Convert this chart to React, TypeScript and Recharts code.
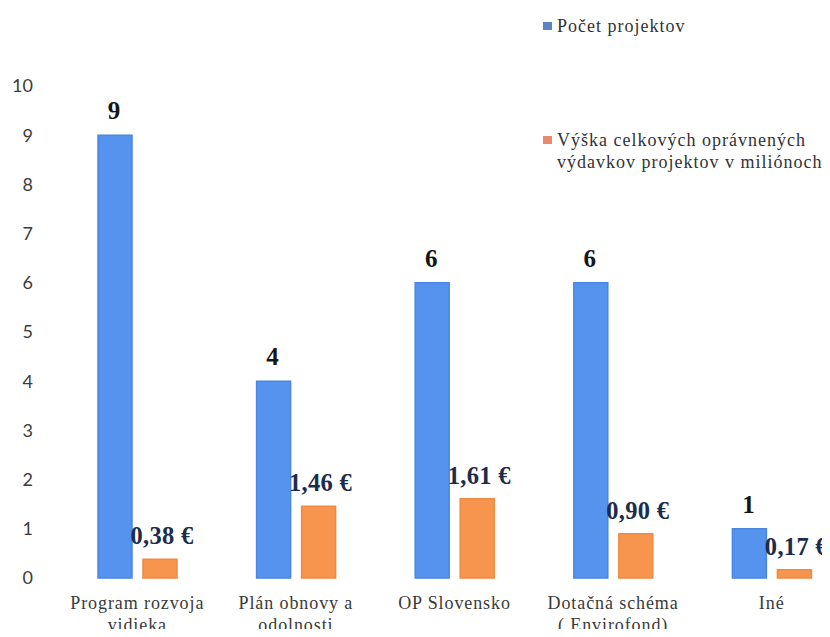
import React from 'react';
import { BarChart, Bar, XAxis, YAxis, Legend, LabelList } from 'recharts';

const categories = [
    'Program rozvoja\nvidieka',
    'Plán obnovy a\nodolnosti',
    'OP Slovensko',
    'Dotačná schéma\n( Envirofond)',
    'Iné',
];
const projectCounts = [9, 4, 6, 6, 1];
const eligibleCosts = [0.38, 1.46, 1.61, 0.9, 0.17];
const yTicks = [0, 1, 2, 3, 4, 5, 6, 7, 8, 9, 10];

const countName = 'Počet projektov';
const costName = 'Výška celkových oprávnených\nvýdavkov projektov v miliónoch';

const data = categories.map((name, i) => ({
    name,
    count: projectCounts[i],
    cost: eligibleCosts[i],
}));

const serif = 'Liberation Serif';

const XTick = (props: any) => {
    const { x, y, payload } = props;
    const lines = String(payload.value).split('\n');
    return (
        <text
            x={x}
            y={y + 23}
            textAnchor="middle"
            style={{ fontFamily: serif, letterSpacing: 0.9 }}
            fontSize={18}
            fill="#3a3a3a"
        >
            {lines.map((line, i) => (
                <tspan key={i} x={x} dy={i === 0 ? 0 : 22}>
                    {line}
                </tspan>
            ))}
        </text>
    );
};

const countLabel = (p: any) => (
    <text
        x={Number(p.x) + Number(p.width) / 2 - 1}
        y={Number(p.y) - 16}
        textAnchor="middle"
        style={{ fontFamily: serif }}
        fontWeight="bold"
        fontSize={25}
        fill="#151515"
    >
        {p.value}
    </text>
);

const costLabel = (p: any) => (
    <text
        x={Number(p.x) + Number(p.width) / 2 + 2}
        y={Number(p.y) - 15}
        textAnchor="middle"
        style={{ fontFamily: serif, letterSpacing: 0.3 }}
        fontWeight="bold"
        fontSize={24.5}
        fill="#1e2c4c"
    >
        {Number(p.value).toFixed(2).replace('.', ',') + ' €'}
    </text>
);

const renderLegend = () => (
    <div style={{ fontFamily: serif, fontSize: 18, letterSpacing: 1, color: '#333', lineHeight: '22px' }}>
        <div style={{ display: 'flex', alignItems: 'flex-start' }}>
            <span style={{ width: 9, height: 8, background: '#5c84c4', marginTop: 7, marginRight: 5, flexShrink: 0 }} />
            <span>{countName}</span>
        </div>
        <div style={{ display: 'flex', alignItems: 'flex-start', marginTop: 92 }}>
            <span style={{ width: 9, height: 8, background: '#e98a6e', marginTop: 7, marginRight: 5, flexShrink: 0 }} />
            <span style={{ whiteSpace: 'pre' }}>{costName}</span>
        </div>
    </div>
);

export default function App() {
    return (
        <div style={{ margin: -8, width: 830, height: 637, overflow: 'hidden', background: '#fff' }}>
            <BarChart
                width={851}
                height={637}
                data={data}
                margin={{ top: 86, right: 0, left: 0, bottom: 0 }}
                barSize={34}
                barGap={11}
            >
                <XAxis
                    dataKey="name"
                    axisLine={false}
                    tickLine={false}
                    height={59}
                    tick={<XTick />}
                    interval={0}
                />
                <YAxis
                    width={58}
                    domain={[0, 10]}
                    ticks={yTicks}
                    axisLine={false}
                    tickLine={false}
                    tickSize={6}
                    tickMargin={19}
                    tick={{ fontFamily: 'Lato, sans-serif', fontSize: 18, fill: '#3c3c3c' }}
                />
                <Legend
                    layout="horizontal"
                    verticalAlign="middle"
                    content={renderLegend}
                    wrapperStyle={{ position: 'absolute', top: 15, left: 543, width: 300 }}
                />
                <Bar dataKey="count" name={countName} fill="#5693ee" stroke="#4a87e4" strokeWidth={1.5} isAnimationActive={false}>
                    <LabelList dataKey="count" content={countLabel} />
                </Bar>
                <Bar dataKey="cost" name={costName} fill="#f7944e" stroke="#ef8a42" strokeWidth={1.5} isAnimationActive={false}>
                    <LabelList dataKey="cost" content={costLabel} />
                </Bar>
            </BarChart>
        </div>
    );
}
